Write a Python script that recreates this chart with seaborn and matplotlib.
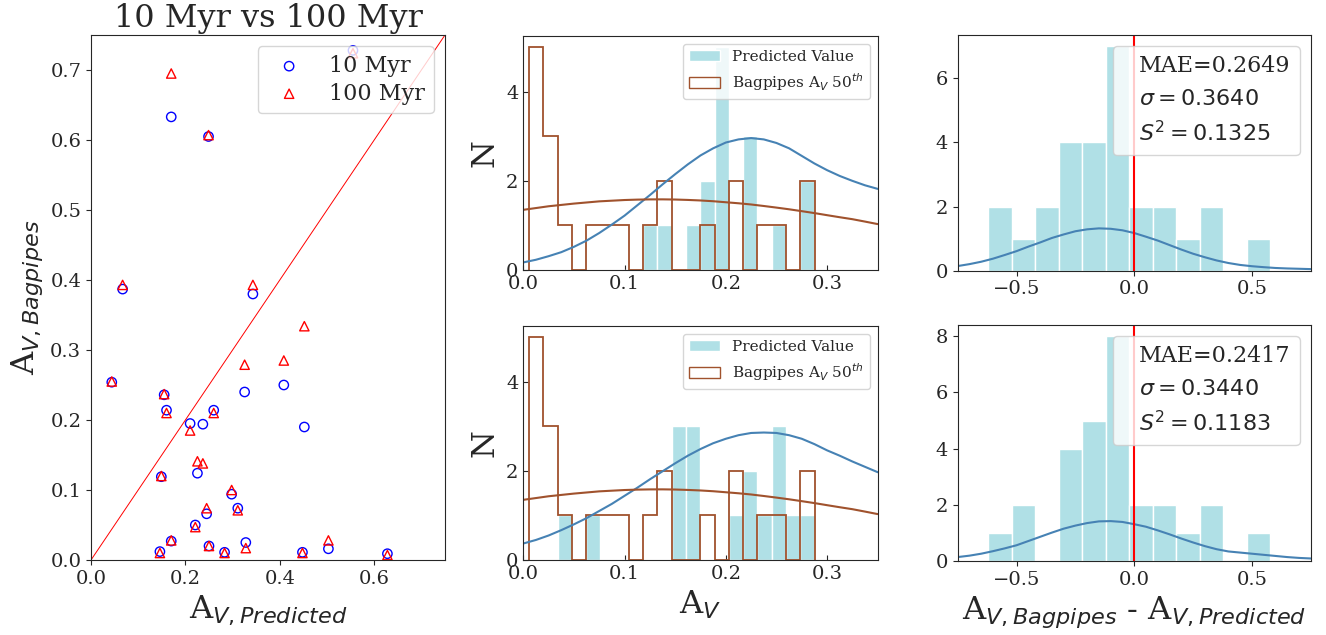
import numpy as np
import pandas as pd
import matplotlib
matplotlib.use("Agg")
import matplotlib.pyplot as plt
from matplotlib.patches import Patch
from matplotlib.lines import Line2D
import seaborn as sns

sns.set_style("ticks")
plt.rcParams['font.family'] = ['DejaVu Serif']
plt.rcParams['mathtext.fontset'] = 'dejavusans'

# left panel: predicted A_V vs Bagpipes A_V (10 Myr / 100 Myr SFH)
av_pred = [0.044, 0.067, 0.146, 0.149, 0.155, 0.160, 0.170, 0.170, 0.210, 0.221,
           0.2255, 0.237, 0.245, 0.249, 0.250, 0.260, 0.283, 0.298, 0.311, 0.3255,
           0.328, 0.343, 0.4085, 0.448, 0.452, 0.503, 0.555, 0.628]
av_bag_10 = [0.254, 0.387, 0.012, 0.119, 0.236, 0.214, 0.027, 0.633, 0.195, 0.050,
             0.124, 0.194, 0.066, 0.605, 0.020, 0.214, 0.011, 0.094, 0.074, 0.240,
             0.025, 0.380, 0.250, 0.011, 0.190, 0.016, 0.728, 0.009]
av_bag_100 = [0.255, 0.393, 0.010, 0.120, 0.237, 0.210, 0.028, 0.695, 0.185, 0.047,
              0.141, 0.138, 0.074, 0.607, 0.020, 0.210, 0.010, 0.100, 0.071, 0.279,
              0.017, 0.393, 0.285, 0.010, 0.334, 0.028, 0.724, 0.007]

# middle panels: A_V histograms (counts per bin)
av_bin_lo, av_bin_hi, av_nbins = 0.0056, 0.2876, 20
pred_counts_10 = [0, 0, 0, 0, 0, 0, 0, 0, 1, 1, 0, 1, 2, 5, 0, 3, 0, 1, 0, 2]
pred_counts_100 = [0, 0, 1, 0, 1, 0, 0, 0, 0, 0, 3, 3, 0, 0, 1, 2, 1, 3, 1, 1]
bag_counts = [5, 3, 1, 0, 1, 1, 1, 0, 1, 2, 0, 0, 1, 0, 2, 0, 1, 1, 0, 2]

# fitted curves (x = 0 ... 0.35)
av_curve_x = np.linspace(0, 0.35, 29)
pred_curve_10 = [0.17, 0.23, 0.31, 0.40, 0.52, 0.66, 0.83, 1.02, 1.22, 1.45,
                 1.68, 1.92, 2.15, 2.37, 2.57, 2.73, 2.86, 2.93, 2.96, 2.93,
                 2.85, 2.73, 2.56, 2.39, 2.24, 2.11, 2.00, 1.90, 1.82]
pred_curve_100 = [0.37, 0.45, 0.55, 0.67, 0.80, 0.94, 1.10, 1.26, 1.44, 1.62,
                  1.81, 1.99, 2.17, 2.34, 2.49, 2.62, 2.72, 2.80, 2.85, 2.86,
                  2.85, 2.80, 2.72, 2.60, 2.46, 2.34, 2.21, 2.09, 1.97]
bag_curve = [1.35, 1.39, 1.43, 1.46, 1.49, 1.515, 1.54, 1.555, 1.57, 1.579,
             1.584, 1.585, 1.581, 1.572, 1.56, 1.543, 1.52, 1.497, 1.47, 1.436,
             1.40, 1.362, 1.32, 1.277, 1.23, 1.184, 1.14, 1.086, 1.03]

# right panels: residual histograms
diff_bin_lo, diff_bin_hi, diff_nbins = -0.62, 0.577, 12
diff_counts_10 = [2, 1, 2, 4, 4, 7, 2, 2, 1, 2, 0, 1]
diff_counts_100 = [1, 2, 0, 4, 5, 8, 2, 2, 1, 2, 0, 1]
diff_curve_x = np.linspace(-0.75, 0.75, 31)
diff_curve_10 = [0.145, 0.205, 0.28, 0.375, 0.49, 0.61, 0.75, 0.88, 1.02, 1.13,
                 1.23, 1.29, 1.32, 1.307, 1.26, 1.175, 1.06, 0.94, 0.80, 0.66,
                 0.53, 0.42, 0.32, 0.24, 0.18, 0.14, 0.11, 0.085, 0.07, 0.06, 0.05]
diff_curve_100 = [0.14, 0.19, 0.26, 0.35, 0.45, 0.56, 0.71, 0.86, 1.01, 1.15,
                  1.26, 1.35, 1.41, 1.42, 1.39, 1.31, 1.22, 1.09, 0.95, 0.80,
                  0.66, 0.53, 0.42, 0.34, 0.30, 0.26, 0.22, 0.18, 0.14, 0.11, 0.09]
stats_10 = ["MAE=0.2649", r"$\sigma=0.3640$", r"$S^2=0.1325$"]
stats_100 = ["MAE=0.2417", r"$\sigma=0.3440$", r"$S^2=0.1183$"]

CYAN = "powderblue"
BROWN = "sienna"
BLUE = "steelblue"


def hist_counts(ax, lo, hi, n, counts, **kw):
    edges = np.linspace(lo, hi, n + 1)
    df = pd.DataFrame({"center": (edges[:-1] + edges[1:]) / 2, "count": counts})
    sns.histplot(data=df, x="center", weights="count", bins=list(edges), ax=ax, **kw)


fig = plt.figure(figsize=(13.26, 6.35), dpi=100)
W, H = 1326, 635


def px_axes(x0, y0, x1, y1):
    return fig.add_axes([x0 / W, 1 - y1 / H, (x1 - x0) / W, (y1 - y0) / H])


# ---- left scatter
ax = px_axes(91, 35, 445, 560)
sns.scatterplot(x=av_pred, y=av_bag_10, marker="o", s=45, facecolor="none",
                edgecolor="blue", linewidth=1, label="10 Myr", ax=ax)
sns.scatterplot(x=av_pred, y=av_bag_100, marker="^", s=45, facecolor="none",
                edgecolor="red", linewidth=1, label="100 Myr", ax=ax)
ax.axline((0, 0), slope=1, color="red", lw=0.7)
ax.set_xlim(0, 0.75)
ax.set_ylim(0, 0.75)
ax.set_xticks([0.0, 0.2, 0.4, 0.6])
ax.set_yticks(np.arange(0, 0.71, 0.1))
ax.tick_params(labelsize=14)
ax.set_title("10 Myr vs 100 Myr", fontsize=23)
ax.set_xlabel(r"A$_{V,Predicted}$", fontsize=23)
ax.set_ylabel(r"A$_{V,Bagpipes}$", fontsize=23)
ax.legend(loc="upper right", fontsize=16, labelspacing=0.25)

# ---- middle histograms
av_edges = np.linspace(av_bin_lo, av_bin_hi, av_nbins + 1)
mid_rows = [(36, 270, pred_counts_10, pred_curve_10), (326, 560, pred_counts_100, pred_curve_100)]
for i, (y0, y1, pc, curve) in enumerate(mid_rows):
    ax = px_axes(523.3, y0, 877.7, y1)
    hist_counts(ax, av_bin_lo, av_bin_hi, av_nbins, pc, color=CYAN, alpha=1,
                edgecolor="white", linewidth=1)
    ax.stairs(bag_counts, av_edges, color=BROWN, linewidth=1.3)
    sns.lineplot(x=av_curve_x, y=curve, color=BLUE, lw=1.5, ax=ax)
    sns.lineplot(x=av_curve_x, y=bag_curve, color=BROWN, lw=1.5, ax=ax)
    ax.set_xlim(0, 0.35)
    ax.set_ylim(0, 5.25)
    ax.set_xticks([0.0, 0.1, 0.2, 0.3])
    ax.set_yticks([0, 2, 4])
    ax.tick_params(direction="in", labelsize=14)
    ax.set_ylabel("N", fontsize=23)
    ax.set_xlabel(r"A$_V$" if i == 1 else "", fontsize=23)
    handles = [Patch(facecolor=CYAN, label="Predicted Value"),
               Patch(facecolor="none", edgecolor=BROWN, label=r"Bagpipes A$_V$ 50$^{th}$")]
    ax.legend(handles=handles, loc="upper right", fontsize=11)

# ---- right residual histograms
right_rows = [(35, 270.7, diff_counts_10, diff_curve_10, stats_10, [0, 2, 4, 6]),
              (325, 561, diff_counts_100, diff_curve_100, stats_100, [0, 2, 4, 6, 8])]
for i, (y0, y1, dc, curve, stats, yt) in enumerate(right_rows):
    ax = px_axes(957.7, y0, 1310.7, y1)
    hist_counts(ax, diff_bin_lo, diff_bin_hi, diff_nbins, dc, color=CYAN, alpha=1,
                edgecolor="white", linewidth=1)
    sns.lineplot(x=diff_curve_x, y=curve, color=BLUE, lw=1.5, ax=ax)
    ax.axvline(0, color="red", lw=1.5)
    ax.set_xlim(-0.75, 0.75)
    ax.set_xticks([-0.5, 0.0, 0.5])
    ax.set_yticks(yt)
    ax.tick_params(labelsize=14)
    ax.set_ylabel("")
    ax.set_xlabel(r"A$_{V,Bagpipes}$ - A$_{V,Predicted}$" if i == 1 else "", fontsize=23)
    handles = [Line2D([], [], ls="none", label=t) for t in stats]
    ax.legend(handles=handles, loc="upper right", fontsize=16, handlelength=0)

fig.savefig("out.png", dpi=100)
